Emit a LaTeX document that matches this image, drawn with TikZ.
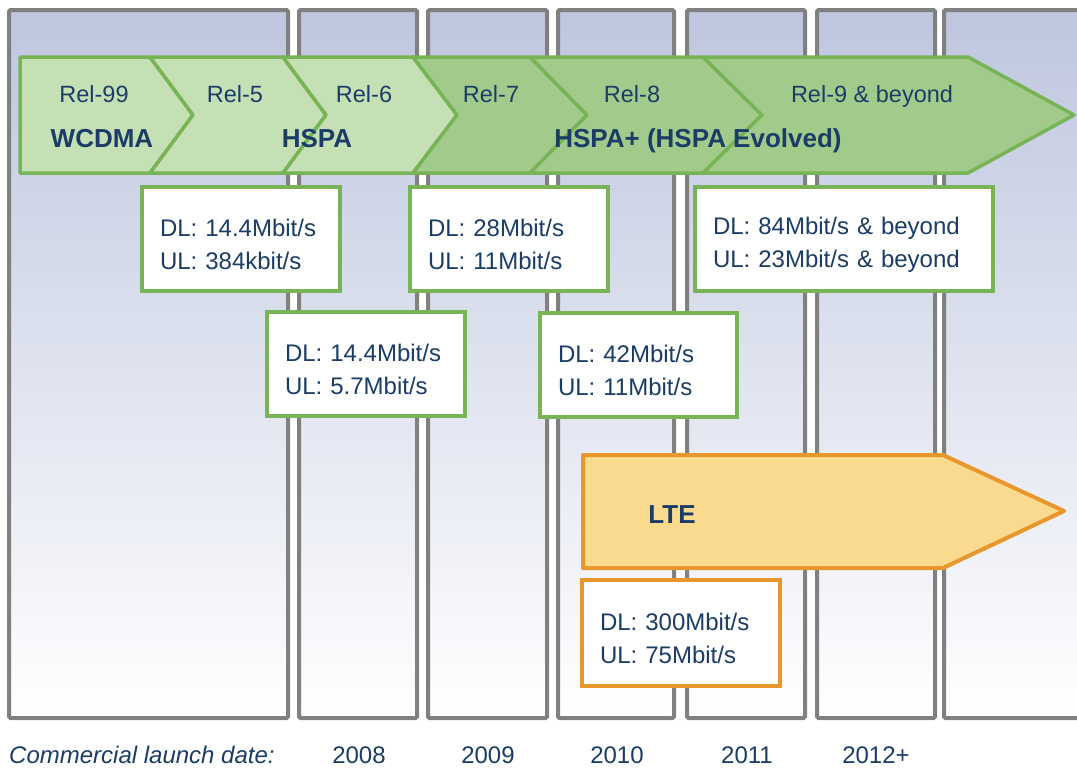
\documentclass[tikz,border=0pt]{standalone}
\usepackage{fontspec}
\setmainfont{Liberation Sans}
\definecolor{coltop}{HTML}{BEC6DF}
\definecolor{colgray}{HTML}{808080}
\definecolor{gline}{HTML}{78B456}
\definecolor{glight}{HTML}{C6E0B6}
\definecolor{gdark}{HTML}{A2CB8B}
\definecolor{oline}{HTML}{E8972C}
\definecolor{ofill}{HTML}{FADA8E}
\definecolor{txt}{HTML}{1A3C66}
\newcommand\relfont{\fontsize{23.5}{28}\selectfont}
\newcommand\bigfont{\fontsize{26}{30}\selectfont\bfseries}
\newcommand\boxfont{\fontsize{24}{33}\selectfont}
\newcommand\tallrule{\rule{0pt}{28pt}}
\tikzset{
  column/.style={draw=colgray, line width=4pt, top color=coltop, bottom color=white, rounded corners=1.5pt},
  chevlight/.style={draw=gline, line width=3.5pt, fill=glight, line join=round},
  chevdark/.style={draw=gline, line width=3.5pt, fill=gdark, line join=round},
  chevlte/.style={draw=oline, line width=4pt, fill=ofill, line join=round},
  rel/.style={anchor=base, text=txt, font=\relfont, inner sep=0pt},
  tech/.style={anchor=base, text=txt, font=\bigfont, inner sep=0pt},
  ratebox/.style={draw=gline, line width=4pt, fill=white, text=txt, font=\boxfont,
    align=left, anchor=north west, outer sep=0pt, inner xsep=18pt, inner ysep=0pt,
    minimum height=104pt},
  ltebox/.style={ratebox, draw=oline},
  year/.style={anchor=base, text=txt, font=\fontsize{24}{28}\selectfont, inner sep=0pt},
}
\begin{document}
\begin{tikzpicture}[x=1pt, y=-1pt]
\useasboundingbox (0,0) rectangle (1077,769);
\clip (0,0) rectangle (1077,769);
% columns
\path[column] (9,10) rectangle (288,718);
\path[column] (299,10) rectangle (417,718);
\path[column] (428,10) rectangle (547,718);
\path[column] (558,10) rectangle (674,718);
\path[column] (687,10) rectangle (805,718);
\path[column] (817,10) rectangle (935,718);
\path[column] (944,10) rectangle (1095,718);
% release chevrons
\path[chevlight] (20,57) -- (150,57) -- (193,115) -- (150,173) -- (20,173) -- cycle;
\path[chevlight] (150,57) -- (283,57) -- (326,115) -- (283,173) -- (150,173) -- (193,115) -- cycle;
\path[chevlight] (283,57) -- (413,57) -- (457,115) -- (413,173) -- (283,173) -- (326,115) -- cycle;
\path[chevdark] (413,57) -- (530,57) -- (587,115) -- (530,173) -- (413,173) -- (457,115) -- cycle;
\path[chevdark] (530,57) -- (703,57) -- (762,115) -- (703,173) -- (530,173) -- (587,115) -- cycle;
\path[chevdark] (703,57) -- (968,57) -- (1074,115) -- (968,173) -- (703,173) -- (762,115) -- cycle;
% release labels
\node[rel] (r99) at (94,102) {Rel-99};
\node[rel] (r5) at (235,102) {Rel-5};
\node[rel] (r6) at (364,102) {Rel-6};
\node[rel] (r7) at (491,102) {Rel-7};
\node[rel] (r8) at (632,102) {Rel-8};
\node[rel] (r9) at (872,102) {Rel-9 \& beyond};
\node[tech] (wcdma) at (102,147) {WCDMA};
\node[tech] (hspa) at (317,147) {HSPA};
\node[tech] (hspap) at (698,147) {HSPA+ (HSPA Evolved)};
% rate boxes
\node[ratebox, text width=162pt] (b1) at (142,187) {\tallrule DL: 14.4Mbit/s\\UL: 384kbit/s};
\node[ratebox, text width=162pt] (b2) at (267,312) {\tallrule DL: 14.4Mbit/s\\UL: 5.7Mbit/s};
\node[ratebox, text width=162pt] (b3) at (410,187) {\tallrule DL: 28Mbit/s\\UL: 11Mbit/s};
\node[ratebox, text width=161pt] (b4) at (540,313) {\tallrule DL: 42Mbit/s\\UL: 11Mbit/s};
\node[ratebox, text width=262pt] (b5) at (695,187) {\tallrule DL: 84Mbit/s \& beyond\\UL: 23Mbit/s \& beyond};
% LTE
\path[chevlte] (583,455) -- (943,455) -- (1064,511) -- (943,568) -- (583,568) -- cycle;
\node[tech] (lte) at (672,523) {LTE};
\node[ltebox, text width=162pt, minimum height=106pt] (b6) at (582,580) {\tallrule DL: 300Mbit/s\\UL: 75Mbit/s};
% launch dates
\node[year, anchor=base west] (cld) at (9,763) {\itshape Commercial launch date:};
\node[year] (y8) at (359,763) {2008};
\node[year] (y9) at (488,763) {2009};
\node[year] (y10) at (617,763) {2010};
\node[year] (y11) at (747,763) {2011};
\node[year] (y12) at (876,763) {2012+};
\end{tikzpicture}
\end{document}
